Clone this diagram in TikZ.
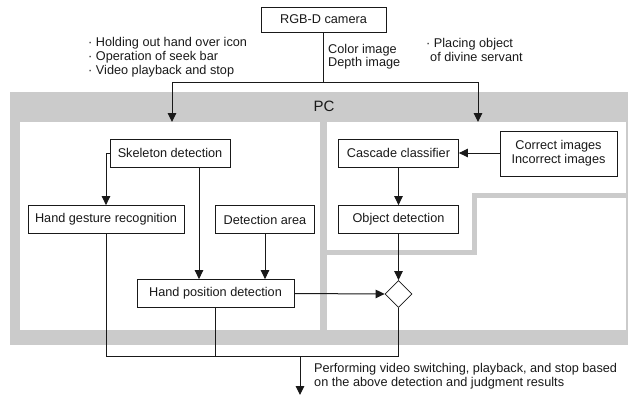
\documentclass[tikz,border=0pt]{standalone}
\usepackage{fontspec}
\setmainfont{Liberation Sans}
\usetikzlibrary{arrows.meta,shapes.geometric}
\definecolor{panelgray}{RGB}{203,203,203}
\definecolor{inkc}{RGB}{25,25,25}
\begin{document}
\begin{tikzpicture}[x=1pt,y=-1pt,
  box/.style={draw=inkc, line width=0.8pt, fill=white, minimum height=28pt, inner sep=2pt,
              font=\fontsize{12.7}{14}\selectfont, text=inkc},
  lbl/.style={font=\fontsize{12.7}{14}\selectfont, text=inkc, inner sep=0pt, align=left},
  conn/.style={draw=inkc, line width=1pt},
  arr/.style={conn, -{Triangle[length=9pt,width=8.5pt]}},
]
\useasboundingbox (0,0) rectangle (628,397);
% panels
\fill[panelgray] (10,92) rectangle (628,345);
\fill[white] (20,122) rectangle (320,330);
\fill[white] (327,122) rectangle (626,330);
\draw[panelgray, line width=5pt] (327,252) -- (474,252) -- (474,195) -- (626,195);
\node[font=\fontsize{15}{17}\selectfont, text=inkc] (pc) at (324,106) {PC};

% nodes
\node[box, minimum width=125pt, minimum height=25pt] (cam) at (323.5,19.5) {RGB-D camera};
\node[lbl, anchor=west] (tl) at (88,57) {· Holding out hand over icon\\· Operation of seek bar\\· Video playback and stop};
\node[lbl, anchor=west, font=\fontsize{12.7}{13}\selectfont] (tc) at (328,56.5) {Color image\\Depth image};
\node[lbl, anchor=west] (tr) at (426,50) {· Placing object\\\hspace{4pt}of divine servant};

\node[box, minimum width=120pt] (skel) at (170,153) {Skeleton detection};
\node[box, minimum width=156pt] (gest) at (106,219.5) {Hand gesture recognition};
\node[box, minimum width=99pt] (det) at (265,219.5) {Detection area};
\node[box, minimum width=157pt] (hpos) at (215.5,293.5) {Hand position detection};

\node[box, minimum width=120pt] (casc) at (398.5,153) {Cascade classifier};
\node[box, minimum width=117pt, minimum height=45pt, align=center] (corr) at (558.5,153.5) {Correct images\\Incorrect images};
\node[box, minimum width=120pt] (obj) at (398.5,219.5) {Object detection};
\node[draw=inkc, line width=0.8pt, fill=white, diamond, minimum width=27pt, minimum height=27pt, inner sep=0pt] (dia) at (398.5,294) {};

\node[lbl, anchor=west] (res) at (314,376) {Performing video switching, playback, and stop based\\on the above detection and judgment results};

% coordinates
\coordinate (fork) at (323.5,82);
\coordinate (forkL) at (172,82);
\coordinate (forkR) at (478,82);
\coordinate (inL) at (172,122);
\coordinate (inR) at (478,122);
\coordinate (a1) at (199,0);
\coordinate (j) at (0,356);
\coordinate (out) at (300,395);

% connectors
\draw[conn] (cam.south) -- (fork);
\draw[conn] (forkL) -- (forkR);
\draw[arr] (forkL) -- (inL);
\draw[arr] (forkR) -- (inR);
\draw[arr] (skel.west) -| (gest.north);
\draw[arr] (skel.south -| a1) -- (hpos.north -| a1);
\draw[arr] (det.south) -- (hpos.north -| det.south);
\draw[arr] (corr.west |- casc.east) -- (casc.east);
\draw[arr] (casc.south) -- (obj.north);
\draw[arr] (obj.south) -- (dia.north);
\draw[arr] (hpos.east) -- (dia.west);
\draw[conn] (gest.south) |- (dia.south |- j) -- (dia.south);
\draw[conn] (hpos.south) -- (hpos.south |- j);
\draw[arr] (out |- j) -- (out);
\end{tikzpicture}
\end{document}
